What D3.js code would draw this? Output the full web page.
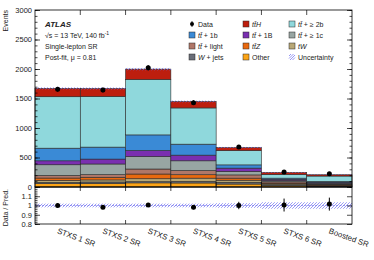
<html>
<head>
<script src="https://d3js.org/d3.v7.min.js" charset="utf-8"></script>
<style type="text/css">
body { margin: 0; background: white; }
svg text { font-family: "Liberation Sans", Arial, sans-serif; fill: #222; }
</style>
</head>
<body>
<script type="text/javascript">
// categories
var regions = ["STXS 1 SR", "STXS 2 SR", "STXS 3 SR", "STXS 4 SR", "STXS 5 SR", "STXS 6 SR", "Boosted SR"];

// samples, stacked from bottom to top (post-fit yields)
var other   = [56, 60, 70, 68, 50, 25, 12];
var wjets   = [22, 25, 20, 27, 30, 15, 8];
var tw      = [34, 35, 50, 55, 35, 15, 8];
var ttz     = [40, 45, 80, 58, 35, 15, 10];
var ttlight = [44, 45, 85, 72, 55, 20, 12];
var tt1c    = [181, 180, 212, 164, 60, 20, 15];
var tt1B    = [67, 83, 101, 96, 55, 20, 15];
var tt1b    = [214, 203, 265, 186, 55, 20, 15];
var tt2b    = [872, 859, 941, 614, 243, 63, 91];
var tth     = [142, 135, 174, 110, 51, 34, 22];

var data    = [1655, 1643, 2020, 1430, 676, 253, 225];
var dataErr = [41, 41, 45, 38, 26, 16, 15];
var uncRel  = [0.01, 0.01, 0.01, 0.01, 0.015, 0.025, 0.025];

var ratio    = [1.0, 0.98, 1.005, 0.98, 1.0, 1.005, 1.015];
var ratioErr = [0.02, 0.02, 0.02, 0.02, 0.04, 0.07, 0.07];
var ratioUnc = [0.02, 0.02, 0.02, 0.02, 0.025, 0.035, 0.035];

var yTicks = [0, 500, 1000, 1500, 2000, 2500, 3000];
var rTicks = [0.8, 0.9, 1, 1.1];

var samples = [
	{name: "Other", vals: other, color: "#fca416"},
	{name: "W+jets", vals: wjets, color: "#6a6e78"},
	{name: "tW", vals: tw, color: "#b9a876"},
	{name: "ttZ", vals: ttz, color: "#e9690f"},
	{name: "ttlight", vals: ttlight, color: "#b07768"},
	{name: "tt1c", vals: tt1c, color: "#98a6a3"},
	{name: "tt1B", vals: tt1B, color: "#7a2fb0"},
	{name: "tt1b", vals: tt1b, color: "#3a8ad6"},
	{name: "tt2b", vals: tt2b, color: "#8fd8dc"},
	{name: "ttH", vals: tth, color: "#bd1e0e"}
];

var w = 374, h = 260;
var L = 35, R = 352, T = 10, B = 187, RB = 224;
var hatchColor = "#6b6bf0";

var svg = d3.select("body").append("svg").attr("width", w).attr("height", h);

// hatch drawn as clipped "/" segments, no pattern fill
function hatch(g, x0, y0, x1, y1, step) {
	var segs = [];
	var c0 = Math.ceil((x0 + y0) / step) * step;
	for (var c = c0; c <= x1 + y1; c += step) {
		var xa = Math.max(x0, c - y1), xb = Math.min(x1, c - y0);
		if (xb > xa) segs.push([xa, c - xa, xb, c - xb]);
	}
	g.append("g").selectAll("line").data(segs).enter().append("line")
		.attr("x1", function(d) { return d[0]; }).attr("y1", function(d) { return d[1]; })
		.attr("x2", function(d) { return d[2]; }).attr("y2", function(d) { return d[3]; })
		.attr("stroke", hatchColor).attr("stroke-width", 0.7);
}

var x = d3.scaleBand().domain(regions).range([L, R]).padding(0);
var y = d3.scaleLinear().domain([0, 3000]).range([B, T]);
var yr = d3.scaleLinear().domain([0.8, 1.2]).range([RB, B]);

// stack
var rows = regions.map(function(r, i) {
	var o = {region: r};
	samples.forEach(function(s) { o[s.name] = s.vals[i]; });
	return o;
});
var stack = d3.stack().keys(samples.map(function(s) { return s.name; }))(rows);

stack.forEach(function(layer, li) {
	svg.append("g").selectAll("rect").data(layer).enter().append("rect")
		.attr("x", function(d) { return x(d.data.region); })
		.attr("width", x.bandwidth())
		.attr("y", function(d) { return y(d[1]); })
		.attr("height", function(d) { return y(d[0]) - y(d[1]); })
		.attr("fill", samples[li].color)
		.attr("stroke", "#2a2a2a").attr("stroke-width", 0.6);
});

// uncertainty band on the total
var totals = rows.map(function(r, i) { return d3.sum(samples, function(s) { return s.vals[i]; }); });
totals.forEach(function(d, i) {
	hatch(svg, x(regions[i]), y(d * (1 + uncRel[i])), x(regions[i]) + x.bandwidth(), y(d * (1 - uncRel[i])), 3);
});

// data points
var cx = function(i) { return x(regions[i]) + x.bandwidth() / 2; };
svg.append("g").selectAll("line").data(data).enter().append("line")
	.attr("x1", function(d, i) { return cx(i); }).attr("x2", function(d, i) { return cx(i); })
	.attr("y1", function(d, i) { return y(d - dataErr[i]); })
	.attr("y2", function(d, i) { return y(d + dataErr[i]); })
	.attr("stroke", "black").attr("stroke-width", 1);
svg.append("g").selectAll("circle").data(data).enter().append("circle")
	.attr("cx", function(d, i) { return cx(i); })
	.attr("cy", function(d) { return y(d); })
	.attr("r", 2.5).attr("fill", "black");

// ratio panel
ratioUnc.forEach(function(d, i) {
	hatch(svg, x(regions[i]), yr(1 + d), x(regions[i]) + x.bandwidth(), yr(1 - d), 3);
});
svg.append("line").attr("x1", L).attr("x2", R).attr("y1", yr(1)).attr("y2", yr(1))
	.attr("stroke", hatchColor).attr("stroke-width", 0.6).attr("stroke-dasharray", "2,1.5");
svg.append("g").selectAll("line").data(ratio).enter().append("line")
	.attr("x1", function(d, i) { return cx(i); }).attr("x2", function(d, i) { return cx(i); })
	.attr("y1", function(d, i) { return yr(d - ratioErr[i]); })
	.attr("y2", function(d, i) { return yr(d + ratioErr[i]); })
	.attr("stroke", "black").attr("stroke-width", 1);
svg.append("g").selectAll("circle").data(ratio).enter().append("circle")
	.attr("cx", function(d, i) { return cx(i); })
	.attr("cy", function(d) { return yr(d); })
	.attr("r", 2.5).attr("fill", "black");

// frames
svg.append("rect").attr("x", L).attr("y", T).attr("width", R - L).attr("height", B - T)
	.attr("fill", "none").attr("stroke", "black").attr("stroke-width", 0.8);
svg.append("rect").attr("x", L).attr("y", B).attr("width", R - L).attr("height", RB - B)
	.attr("fill", "none").attr("stroke", "black").attr("stroke-width", 0.8);

// axes (ticks pointing inward)
var minorY = d3.range(0, 3001, 100);
function tickAxis(axis, g) {
	g.call(axis);
	g.select(".domain").remove();
	g.selectAll("line").attr("stroke", "black").attr("stroke-width", 0.7);
	g.selectAll("text").attr("font-size", 7.5).style("font-family", "Liberation Sans, Arial, sans-serif");
}
tickAxis(d3.axisLeft(y).tickValues(minorY).tickSize(-2.5).tickFormat(""),
	svg.append("g").attr("transform", "translate(" + L + ",0)"));
tickAxis(d3.axisLeft(y).tickValues(yTicks).tickSize(-5).tickPadding(3).tickFormat(d3.format("d")),
	svg.append("g").attr("transform", "translate(" + L + ",0)"));
tickAxis(d3.axisRight(y).tickValues(minorY).tickSize(-2.5).tickFormat(""),
	svg.append("g").attr("transform", "translate(" + R + ",0)"));
tickAxis(d3.axisRight(y).tickValues(yTicks).tickSize(-5).tickFormat(""),
	svg.append("g").attr("transform", "translate(" + R + ",0)"));

var minorR = d3.range(0.8, 1.2001, 0.02);
tickAxis(d3.axisLeft(yr).tickValues(minorR).tickSize(-2.5).tickFormat(""),
	svg.append("g").attr("transform", "translate(" + L + ",0)"));
tickAxis(d3.axisLeft(yr).tickValues(rTicks).tickSize(-5).tickPadding(3).tickFormat(function(d) { return d === 1 ? "1" : d3.format(".1f")(d); }),
	svg.append("g").attr("transform", "translate(" + L + ",0)"));
tickAxis(d3.axisRight(yr).tickValues(rTicks).tickSize(-5).tickFormat(""),
	svg.append("g").attr("transform", "translate(" + R + ",0)"));

// bin edge ticks
var edges = regions.slice(1).map(function(r) { return x(r); });
[[T, 5], [B, -5], [B, 4], [RB, -4]].forEach(function(p) {
	svg.append("g").selectAll("line").data(edges).enter().append("line")
		.attr("x1", function(d) { return d; }).attr("x2", function(d) { return d; })
		.attr("y1", p[0]).attr("y2", p[0] + p[1])
		.attr("stroke", "black").attr("stroke-width", 0.7);
});

// x labels
svg.append("g").selectAll("text").data(regions).enter().append("text")
	.attr("transform", function(d) { return "translate(" + (x(d) + x.bandwidth() / 2 - 1) + ",233) rotate(20)"; })
	.attr("font-size", 7.8)
	.text(function(d) { return d; });

// axis titles
svg.append("text").attr("transform", "translate(8," + T + ") rotate(-90)")
	.attr("text-anchor", "end").attr("font-size", 7).text("Events");
svg.append("text").attr("transform", "translate(8,189) rotate(-90)")
	.attr("text-anchor", "end").attr("font-size", 7).text("Data / Pred.");

// ATLAS label
svg.append("text").attr("x", 45).attr("y", 27).attr("font-size", 8)
	.attr("font-weight", "bold").attr("font-style", "italic").text("ATLAS");
var t1 = svg.append("text").attr("x", 45).attr("y", 37.5).attr("font-size", 7);
t1.append("tspan").text("\u221As = 13 TeV, 140 fb");
t1.append("tspan").attr("dy", -3).attr("font-size", 5).text("-1");
svg.append("text").attr("x", 45).attr("y", 49).attr("font-size", 7).text("Single-lepton SR");
svg.append("text").attr("x", 45).attr("y", 60).attr("font-size", 7).text("Post-fit, \u03BC = 0.81");

// legend
var tt = "tt\u0304";
var legend = [
	{col: 0, row: 0, kind: "data", parts: [["Data", false]]},
	{col: 0, row: 1, color: "#3a8ad6", parts: [[tt, true], [" + 1b", false]]},
	{col: 0, row: 2, color: "#b07768", parts: [[tt, true], [" + light", false]]},
	{col: 0, row: 3, color: "#6a6e78", parts: [["W", true], [" + jets", false]]},
	{col: 1, row: 0, color: "#bd1e0e", parts: [[tt + "H", true]]},
	{col: 1, row: 1, color: "#7a2fb0", parts: [[tt, true], [" + 1B", false]]},
	{col: 1, row: 2, color: "#e9690f", parts: [[tt + "Z", true]]},
	{col: 1, row: 3, color: "#fca416", parts: [["Other", false]]},
	{col: 2, row: 0, color: "#8fd8dc", parts: [[tt, true], [" + \u2265 2b", false]]},
	{col: 2, row: 1, color: "#98a6a3", parts: [[tt, true], [" + \u2265 1c", false]]},
	{col: 2, row: 2, color: "#b9a876", parts: [["tW", true]]},
	{col: 2, row: 3, kind: "unc", parts: [["Uncertainty", false]]}
];
var colX = [189, 243, 289];
var rowY = [24, 35, 46, 57];
legend.forEach(function(e) {
	var lx = colX[e.col], ly = rowY[e.row];
	if (e.kind === "data") {
		svg.append("line").attr("x1", lx + 3).attr("x2", lx + 3).attr("y1", ly - 3).attr("y2", ly + 3)
			.attr("stroke", "black").attr("stroke-width", 0.8);
		svg.append("circle").attr("cx", lx + 3).attr("cy", ly).attr("r", 2).attr("fill", "black");
	} else if (e.kind === "unc") {
		hatch(svg, lx, ly - 3, lx + 6, ly + 3, 2.5);
	} else {
		svg.append("rect").attr("x", lx).attr("y", ly - 3).attr("width", 6).attr("height", 6)
			.attr("fill", e.color).attr("stroke", "#2a2a2a").attr("stroke-width", 0.5);
	}
	var t = svg.append("text").attr("x", lx + 9).attr("y", ly + 2.5).attr("font-size", 7);
	e.parts.forEach(function(p) {
		t.append("tspan").attr("font-style", p[1] ? "italic" : "normal").text(p[0]);
	});
});
</script>
</body>
</html>
